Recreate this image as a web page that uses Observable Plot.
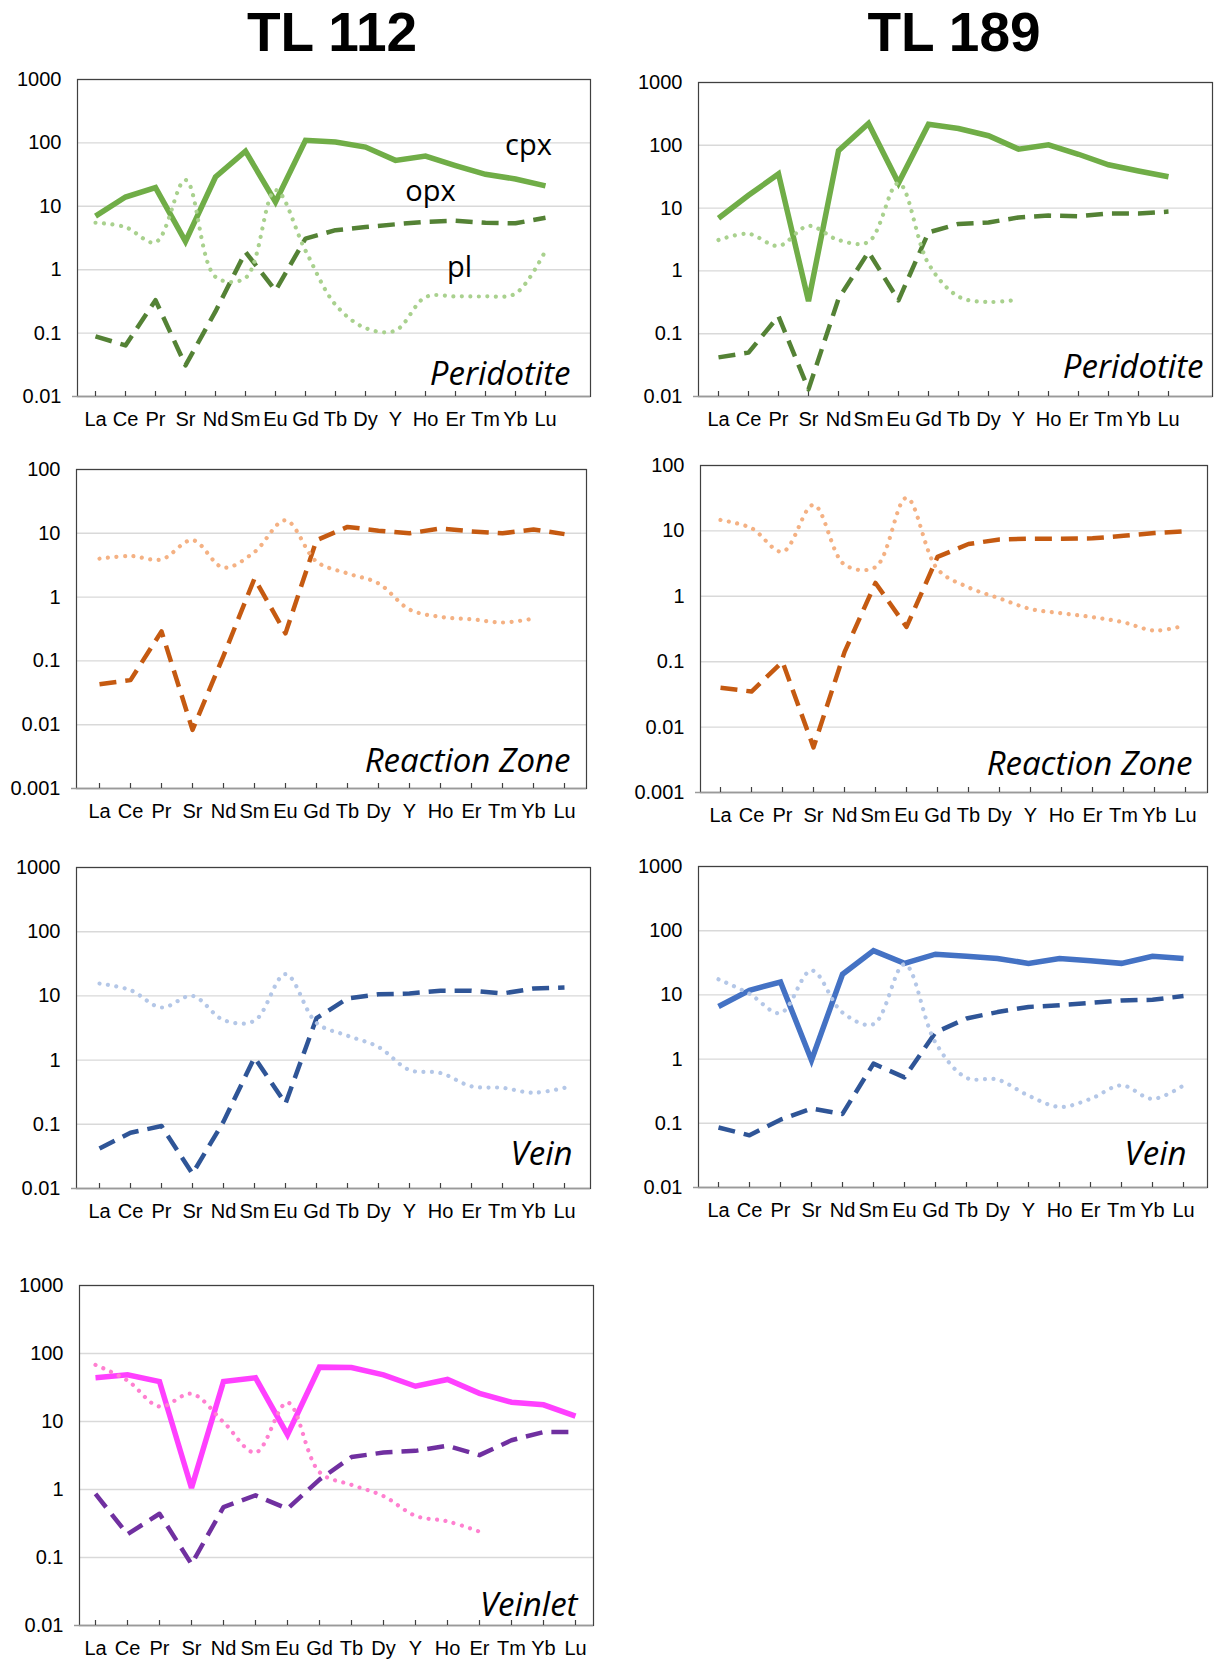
<!DOCTYPE html>
<html>
<head>
<meta charset="utf-8">
<script src="https://cdn.jsdelivr.net/npm/d3@7"></script>
<script src="https://cdn.jsdelivr.net/npm/@observablehq/plot@0.6"></script>
<style>
  html, body { margin: 0; padding: 0; background: #fff; overflow: hidden; }
  #root { position: relative; width: 1215px; height: 1662px; }
  .title { position: absolute; top: 5px; width: 400px; margin-left: -200px; text-align: center;
           font: bold 55px "Liberation Sans", Arial, sans-serif; line-height: 1; color: #000; }
  .panel { position: absolute; }
</style>
</head>
<body>
<div id="root">
  <div class="title" style="left:332px">TL 112</div>
  <div class="title" style="left:954px">TL 189</div>
</div>
<script>
// ---- categories ----
const elements = ["La","Ce","Pr","Sr","Nd","Sm","Eu","Gd","Tb","Dy","Y","Ho","Er","Tm","Yb","Lu"];

// ---- tick labels ----
const ticksA = [0.01, 0.1, 1, 10, 100, 1000];
const ticksB = [0.001, 0.01, 0.1, 1, 10, 100];

// ---- TL 112, Peridotite ----
const tl112PerCpx = [7.0, 14, 19.7, 2.8, 29, 74, 11.7, 110, 103, 86, 53, 62, 44, 32, 27, 21];
const tl112PerOpx = [0.089, 0.064, 0.33, 0.031, 0.22, 1.9, 0.47, 3.1, 4.2, 4.7, 5.2, 5.7, 5.9, 5.5, 5.4, 6.6];
const tl112PerPl  = [5.5, 4.7, 2.7, 26, 0.77, 0.74, 18, 2.0, 0.28, 0.12, 0.11, 0.37, 0.38, 0.38, 0.42, 2.0];

// ---- TL 189, Peridotite ----
const tl189PerCpx = [6.9, 16, 35, 0.33, 82, 223, 25, 217, 185, 142, 87, 102, 72, 49, 39, 31.6];
const tl189PerOpx = [0.042, 0.05, 0.19, 0.013, 0.36, 2.0, 0.34, 4.1, 5.6, 5.9, 7.1, 7.6, 7.4, 8.2, 8.2, 8.8];
const tl189PerPl  = [3.1, 3.9, 2.5, 5.2, 3.1, 2.9, 25, 1.3, 0.39, 0.32, 0.35, null, null, null, null, null];

// ---- TL 112, Reaction Zone ----
const tl112RzDash = [0.043, 0.05, 0.29, 0.0083, 0.12, 1.96, 0.27, 7.8, 12.6, 11, 10, 11.9, 10.7, 10, 11.5, 9.7];
const tl112RzDot  = [4.0, 4.4, 3.9, 7.8, 2.9, 5.1, 16, 3.6, 2.35, 1.64, 0.64, 0.49, 0.45, 0.40, 0.46, null];

// ---- TL 189, Reaction Zone ----
const tl189RzDash = [0.040, 0.035, 0.1, 0.0049, 0.14, 1.6, 0.34, 4.0, 6.3, 7.4, 7.6, 7.6, 7.7, 8.4, 9.3, 9.9];
const tl189RzDot  = [14.7, 11, 4.8, 25, 3.05, 2.8, 32, 2.6, 1.37, 0.93, 0.64, 0.55, 0.48, 0.40, 0.30, 0.36];

// ---- TL 112, Vein ----
const tl112VeinDash = [0.042, 0.074, 0.094, 0.017, 0.11, 1.1, 0.21, 4.5, 9.1, 10.6, 10.9, 12, 12, 10.9, 13, 13.5];
const tl112VeinDot  = [15.6, 12.3, 6.6, 10, 4.2, 4.1, 21.8, 3.8, 2.4, 1.6, 0.70, 0.63, 0.39, 0.37, 0.31, 0.37];

// ---- TL 189, Vein ----
const tl189VeinSolid = [6.6, 11.8, 15.9, 0.96, 21, 49, 31, 43, 40, 37, 31, 37, 34, 31, 40, 37];
const tl189VeinDash  = [0.086, 0.065, 0.114, 0.17, 0.14, 0.85, 0.52, 2.6, 4.3, 5.4, 6.5, 6.9, 7.5, 8.2, 8.4, 9.6];
const tl189VeinDot   = [17.5, 10.4, 5.2, 24, 5.3, 3.5, 30, 1.8, 0.51, 0.48, 0.27, 0.18, 0.24, 0.39, 0.24, 0.39];

// ---- TL 112, Veinlet ----
const tl112VltSolid = [44, 48.5, 38.7, 1.05, 38.7, 44, 6.4, 63, 62, 48.5, 33, 41.5, 26, 19.2, 17.6, 12];
const tl112VltDash  = [0.86, 0.22, 0.44, 0.08, 0.55, 0.82, 0.52, 1.4, 3.0, 3.5, 3.7, 4.4, 3.2, 5.3, 7.0, 7.0];
const tl112VltDot   = [68, 40, 16.6, 25.5, 9.8, 3.5, 19, 1.8, 1.17, 0.8, 0.41, 0.34, 0.24, null, null, null];

// ---- helpers ----
const toRows = (vals) => elements.map((el, i) => ({el, v: vals[i]})).filter(d => d.v != null);

const FONT = "'Liberation Sans', Arial, sans-serif";
const mL = 76, mT = 14, mB = 42;

function lineMark(vals, kind, color) {
  const base = {x: "el", y: "v", stroke: color};
  if (kind === "solid") return Plot.line(toRows(vals), {...base, strokeWidth: 5.5, strokeLinejoin: "miter", strokeMiterlimit: 3, strokeLinecap: "butt"});
  if (kind === "dash") return Plot.line(toRows(vals), {...base, strokeWidth: 4.5, strokeDasharray: "17,9", strokeLinecap: "butt"});
  return Plot.line(toRows(vals), {...base, strokeWidth: 4.2, strokeDasharray: "0.01,8.5", strokeLinecap: "round", curve: "catmull-rom"});
}

function panel(cfg) {
  const {left, top, w, h, mR = 6, ticks, f0, f1, series, label, ldx, ldy, extra = []} = cfg;
  const width = mL + w + mR, height = mT + h + mB;
  const chart = Plot.plot({
    width, height,
    marginLeft: mL, marginRight: mR, marginTop: mT, marginBottom: mB,
    style: {fontFamily: FONT, fontSize: "20px", color: "#000", background: "transparent"},
    x: {type: "point", domain: elements, range: [mL + f0 * w, mL + f1 * w], padding: 0, label: null},
    y: {type: "log", domain: [ticks[0], ticks[ticks.length - 1]], label: null},
    marks: [
      Plot.gridY(ticks, {stroke: "#d9d9d9", strokeOpacity: 1, strokeWidth: 1.4}),
      Plot.frame({stroke: "#404040", strokeWidth: 1.2}),
      Plot.ruleY([ticks[0]], {stroke: "#9a9a9a", strokeWidth: 1.4, insetLeft: -5}),
      Plot.ruleX(elements, {x: d => d, insetTop: h - 5, stroke: "#404040", strokeWidth: 1.2}),
      Plot.axisX({tickSize: 0, tickPadding: 15, fill: "#000"}),
      Plot.axisY(ticks, {tickSize: 0, tickPadding: 16, tickFormat: d => String(d), fill: "#000"}),
      ...series.map(s => lineMark(s[0], s[1], s[2])),
      Plot.text([label], {frameAnchor: "bottom-right", text: d => d, textAnchor: "end", lineAnchor: "bottom",
        dx: ldx, dy: ldy, fontFamily: "'Open Sans', 'Noto Sans', sans-serif", fontStyle: "italic", fontSize: 33, fill: "#000"}),
      ...extra
    ]
  });
  const div = document.createElement("div");
  div.className = "panel";
  div.style.left = (left - mL) + "px";
  div.style.top = (top - mT) + "px";
  div.appendChild(chart);
  document.getElementById("root").appendChild(div);
}

const green = "#70ad47", dgreen = "#548235", lgreen = "#a9d18e";
const orange = "#c55a11", lorange = "#f4b183";
const blue = "#4472c4", dblue = "#2f5597", lblue = "#b4c7e7";
const magenta = "#ff40ff", purple = "#7030a0", pink = "#ff80d0";

const noteStyle = {frameAnchor: "top-left", text: d => d, textAnchor: "middle", lineAnchor: "middle",
  fontFamily: "'Open Sans', 'Noto Sans', sans-serif", fontSize: 29, fill: "#000"};

panel({left: 77, top: 79, w: 513, h: 317, ticks: ticksA, f0: 0.026, f1: 0.921,
  series: [[tl112PerCpx, "solid", green], [tl112PerOpx, "dash", dgreen], [tl112PerPl, "dot", lgreen]],
  label: "Peridotite", ldx: -20, ldy: -12,
  extra: [
    Plot.text(["cpx"], {...noteStyle, dx: 451, dy: 66}),
    Plot.text(["opx"], {...noteStyle, dx: 353, dy: 112}),
    Plot.text(["pl"], {...noteStyle, dx: 382, dy: 188})
  ]});

panel({left: 698, top: 82, w: 514, h: 314, mR: 2, ticks: ticksA, f0: 0.031, f1: 0.922,
  series: [[tl189PerCpx, "solid", green], [tl189PerOpx, "dash", dgreen], [tl189PerPl, "dot", lgreen]],
  label: "Peridotite", ldx: -9, ldy: -19});

panel({left: 76, top: 469, w: 510, h: 319, ticks: ticksB, f0: 0.033, f1: 0.968,
  series: [[tl112RzDash, "dash", orange], [tl112RzDot, "dot", lorange]],
  label: "Reaction Zone", ldx: -16, ldy: -17});

panel({left: 700, top: 465, w: 507, h: 327, ticks: ticksB, f0: 0.028, f1: 0.967,
  series: [[tl189RzDash, "dash", orange], [tl189RzDot, "dot", lorange]],
  label: "Reaction Zone", ldx: -15, ldy: -18});

panel({left: 76, top: 867, w: 514, h: 321, ticks: ticksA, f0: 0.032, f1: 0.964,
  series: [[tl112VeinDash, "dash", dblue], [tl112VeinDot, "dot", lblue]],
  label: "Vein", ldx: -18, ldy: -24});

panel({left: 698, top: 866, w: 509, h: 321, ticks: ticksA, f0: 0.028, f1: 0.964,
  series: [[tl189VeinSolid, "solid", blue], [tl189VeinDash, "dash", dblue], [tl189VeinDot, "dot", lblue]],
  label: "Vein", ldx: -21, ldy: -23});

panel({left: 79, top: 1285, w: 514, h: 340, ticks: ticksA, f0: 0.029, f1: 0.966,
  series: [[tl112VltSolid, "solid", magenta], [tl112VltDash, "dash", purple], [tl112VltDot, "dot", pink]],
  label: "Veinlet", ldx: -16, ldy: -10});
</script>
</body>
</html>
